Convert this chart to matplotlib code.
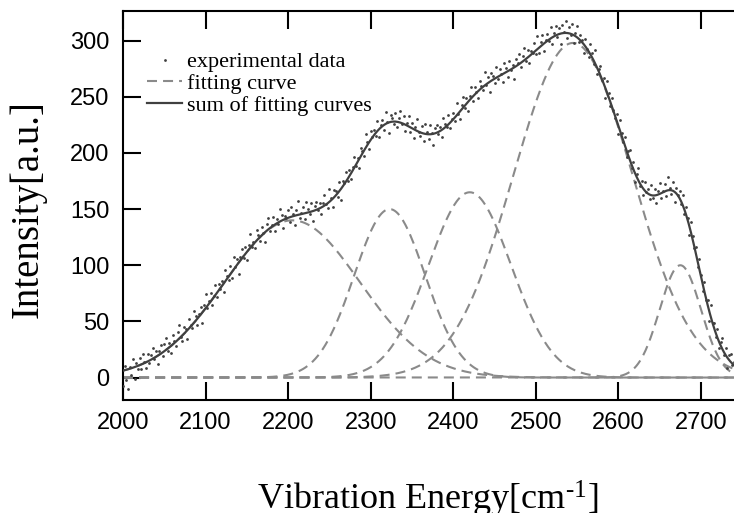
import numpy as np
import matplotlib
matplotlib.use("Agg")
import matplotlib.pyplot as plt

# ---- data ----
peak_centers = [2205, 2323, 2420, 2545, 2675]
peak_amplitudes = [140, 150, 165, 298, 100]
peak_widths = [82, 43, 50, 72, 25]

energy_start = 2000
energy_step = 2
# scatter of the experimental points about the fitted sum (a.u.)
noise = [
    -14, 4, -9, -18, 2, -6, 8, -11, 3, -3, 6, -4, 9, 1, -5, 7, -2, 4, 10, -1,
    5, -7, 3, 8, -3, 6, 11, -2, 4, -6, 9, 2, -4, 7, 12, 0, -5, 6, 3, -8,
    8, 1, -3, 10, 4, -6, 2, 7, -9, 5, 13, -2, 3, 8, -5, 1, 9, -4, 6, -1,
    4, -8, 10, 2, -3, 7, -6, 11, 0, 5, -10, 3, 8, -2, 6, -7, 4, 12, -1, 2,
    -5, 9, 3, -4, 7, 1, -9, 6, 10, -3, 2, 8, -6, 4, -1, 11, 5, -7, 3, 0,
    7, -4, 9, 2, -8, 5, 12, -3, 1, 6, -5, 10, 3, -2, 8, -9, 4, 7, -1, 5,
    -6, 3, 9, 0, -4, 11, 2, -7, 6, 4, -3, 8, -10, 5, 1, 9, -2, 6, -5, 3,
    10, -1, 4, -8, 7, 2, -5, 12, 3, -6, 8, 0, 5, -3, 9, -7, 2, 6, -4, 11,
    1, -9, 6, 3, -2, 8, -5, 4, 10, -1, 7, -6, 2, 9, -4, 5, -8, 3, 11, 0,
    -3, 6, -7, 9, 2, -4, 8, 1, -10, 5, 7, -2, 4, -6, 10, 3, -1, 8, -5, 2,
    6, -3, 11, 0, -7, 4, 9, -2, 5, -8, 3, 10, -4, 7, 1, -6, 8, 2, -3, 12,
    -1, 5, -9, 7, 3, -4, 10, -2, 6, 1, -7, 9, 4, -5, 8, -1, 3, -10, 6, 2,
    9, -4, 5, 11, -2, 7, -6, 3, 0, 8, -3, 12, -5, 4, 9, -7, 2, 6, -1, 10,
    -6, 3, 8, -2, 5, -9, 7, 1, 11, -4, 6, -1, 9, -7, 3, 10, -3, 5, 2, -8,
    7, 0, -5, 9, 4, -3, 12, -6, 2, 8, -1, 5, -9, 10, 3, -4, 7, 1, -2, 6,
    -7, 10, 3, -1, 8, -5, 4, 9, -3, 6, -8, 2, 11, -2, 5, -6, 8, 0, 4, -4,
    9, -2, 6, -7, 3, 10, -4, 1, 7, -5, 12, 2, -3, 8, -9, 5, 0, 6, -2, 9,
    -4, 7, 2, -8, 10, 3, -1, 6, -5, 9, 1, -6, 8, -2, 4, -9, 11, 0, 5, -3,
    8, -5, 3, 10, -2, 6, -9, 4, 7, -1, 3,
]

x_ticks = [2000, 2100, 2200, 2300, 2400, 2500, 2600, 2700]
y_ticks = [0, 50, 100, 150, 200, 250, 300]
x_limits = (2000, 2740)
y_limits = (-20, 326)

legend_labels = ["experimental data", "fitting curve", "sum of fitting curves"]


def gaussian(x, c, a, s):
    return a * np.exp(-(x - c) ** 2 / (2.0 * s ** 2))


xs = np.linspace(x_limits[0], x_limits[1], 741)
fits = [gaussian(xs, c, a, s) for c, a, s in zip(peak_centers, peak_amplitudes, peak_widths)]
total = np.sum(fits, axis=0)

x_exp = energy_start + energy_step * np.arange(len(noise))
y_exp = np.sum([gaussian(x_exp, c, a, s) for c, a, s in
                zip(peak_centers, peak_amplitudes, peak_widths)], axis=0) + np.array(noise)

# ---- figure ----
serif = ["Liberation Serif", "DejaVu Serif"]
plt.rcParams["mathtext.fontset"] = "custom"
plt.rcParams["mathtext.rm"] = "Liberation Serif"
plt.rcParams["mathtext.it"] = "Liberation Serif:italic"

fig = plt.figure(figsize=(7.34, 5.13), dpi=100)
ax = fig.add_axes([0.1676, 0.2203, 0.8324, 0.7573])

dash_color = "#8a8a8a"
dark = "#404040"

for i, f in enumerate(fits):
    ax.plot(xs, f, color=dash_color, lw=1.5, dashes=(4.8, 2.9), zorder=2,
            label=legend_labels[1] if i == 0 else None)
ax.plot(x_exp, y_exp, linestyle="none", marker="o", ms=2.0, mfc=dark, mec="none",
        zorder=3, label=legend_labels[0])
ax.plot(xs, total, color=dark, lw=1.6, zorder=4, label=legend_labels[2])

ax.set_xlim(*x_limits)
ax.set_ylim(*y_limits)
ax.set_xticks(x_ticks)
ax.set_yticks(y_ticks)

for side in ["left", "top", "bottom"]:
    ax.spines[side].set_linewidth(1.5)
    ax.spines[side].set_color("black")
ax.spines["right"].set_visible(False)

ax.tick_params(axis="both", direction="in", length=13, width=1.5, colors="black",
               labelsize=17, labelfontfamily="Liberation Sans")
ax.tick_params(axis="x", top=True, labeltop=False, pad=8.5)
ax.tick_params(axis="y", right=False, pad=10)

handles, labels = ax.get_legend_handles_labels()
order = [labels.index(l) for l in legend_labels]
leg = ax.legend([handles[i] for i in order], [labels[i] for i in order],
                loc="upper left", bbox_to_anchor=(0.0246, 0.919), frameon=False,
                prop={"family": serif, "size": 16}, numpoints=1,
                handlelength=1.6, handletextpad=0.2, labelspacing=0.05,
                borderaxespad=0.0)

fig.text(28 / 734, 1 - 209 / 513, "Intensity[a.u.]", rotation=90, ha="center",
         va="center", family=serif, fontsize=28)
fig.text(428 / 734, 1 - 510 / 513, r"Vibration Energy[cm$^{\text{-1}}$]",
         ha="center", va="baseline", family=serif, fontsize=26)

fig.savefig("out.png", dpi=100)
